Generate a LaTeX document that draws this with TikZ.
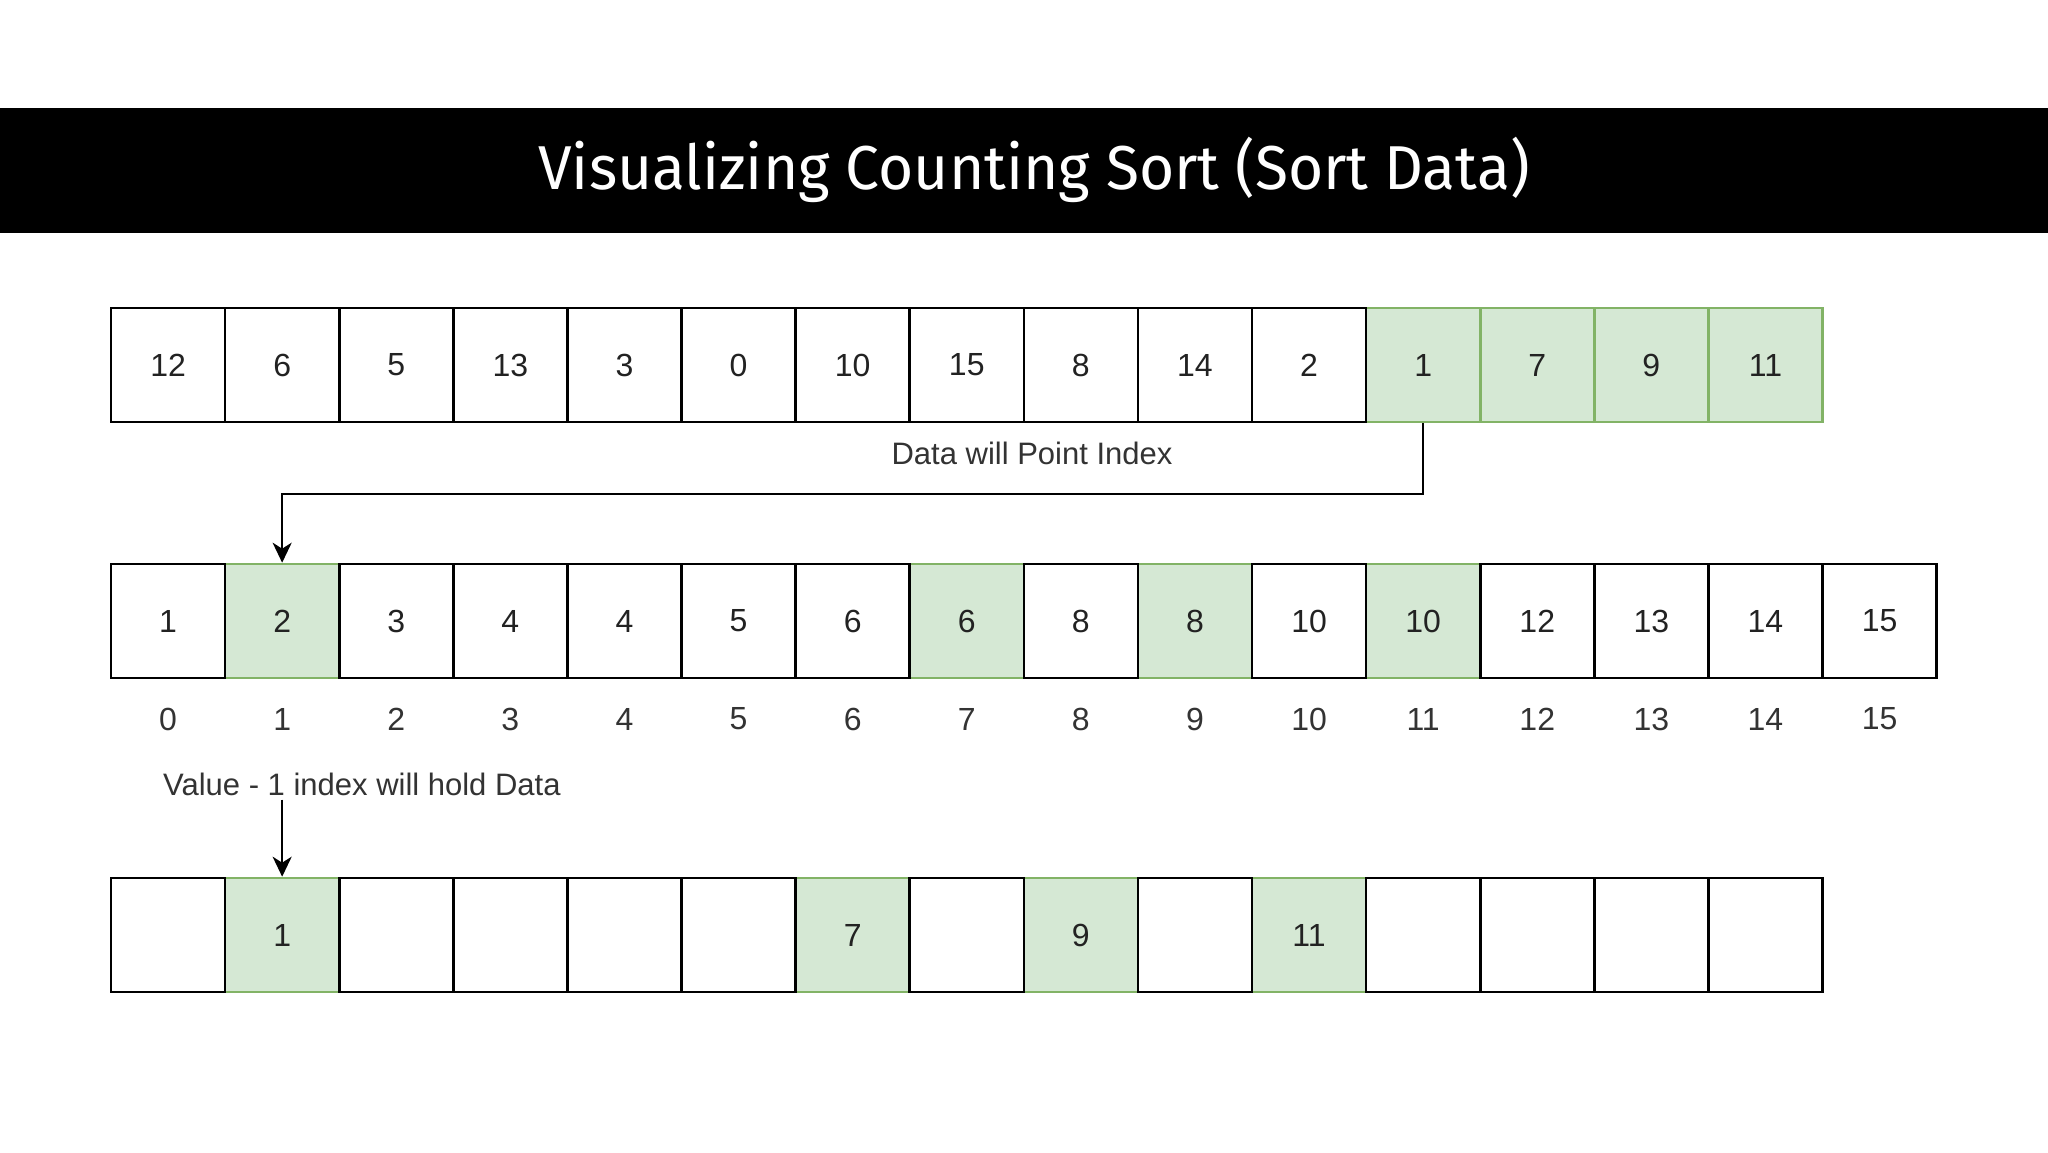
\documentclass[tikz,border=0pt]{standalone}
\usepackage{fontspec}
\setmainfont{Liberation Sans}
\newfontfamily\titlefont{Fira Sans}
\usetikzlibrary{arrows.meta}
\definecolor{gfill}{HTML}{D5E8D4}
\definecolor{gline}{HTML}{82B366}
\definecolor{txt}{HTML}{222222}
\definecolor{lbl}{HTML}{333333}
\tikzset{
  cell/.style={draw=black, line width=2.6pt, fill=white, minimum width=114.1pt, minimum height=114pt, inner sep=0pt, text=txt, font=\fontsize{32}{36}\selectfont},
  gcell/.style={cell, draw=gline, fill=gfill},
  idx/.style={inner sep=0pt, text=lbl, font=\fontsize{32}{36}\selectfont},
  note/.style={inner sep=0pt, text=lbl, font=\fontsize{31}{36}\selectfont},
  conn/.style={line width=2.4pt, -{Stealth[length=20pt,width=19pt,inset=6pt]}}
}
\begin{document}
\begin{tikzpicture}[x=1pt,y=-1pt]
\fill[white] (0,0) rectangle (2048,1152);
\useasboundingbox (0,0) rectangle (2048,1152);
\fill[black] (0,108) rectangle (2048,233);
\node[text=white, inner sep=0pt] (title) at (1034,170) {\scalebox{0.975}[1]{\titlefont\fontsize{62}{70}\selectfont Visualizing Counting Sort (Sort Data)}};
% top row
\foreach \i/\v/\s in {11/1/gcell,12/7/gcell,13/9/gcell,14/11/gcell,0/12/cell,1/6/cell,2/5/cell,3/13/cell,4/3/cell,5/0/cell,6/10/cell,7/15/cell,8/8/cell,9/14/cell,10/2/cell}
  \node[\s] (t\i) at ({111+(\i+0.5)*114.1},365) {\v};
% middle row
\foreach \i/\v/\s in {1/2/gcell,7/6/gcell,9/8/gcell,11/10/gcell,0/1/cell,2/3/cell,3/4/cell,4/4/cell,5/5/cell,6/6/cell,8/8/cell,10/10/cell,12/12/cell,13/13/cell,14/14/cell,15/15/cell}
  \node[\s] (m\i) at ({111+(\i+0.5)*114.1},621) {\v};
\foreach \i in {0,...,15}
  \node[idx] (x\i) at ({111+(\i+0.5)*114.1},719) {\i};
% bottom row
\foreach \i/\v/\s in {1/1/gcell,6/7/gcell,8/9/gcell,10/11/gcell,0//cell,2//cell,3//cell,4//cell,5//cell,7//cell,9//cell,11//cell,12//cell,13//cell,14//cell}
  \node[\s] (b\i) at ({111+(\i+0.5)*114.1},935) {\v};
% labels
\node[note] (l1) at (1032,453) {Data will Point Index};
\node[note, anchor=west] (l2) at (163,784) {Value - 1 index will hold Data};
\coordinate (turn) at (0,494);
\draw[conn] (t11.south) -- (t11.south |- turn) -- (m1.north |- turn) -- (m1.north);
\draw[conn] (l2.south -| b1.north) ++(0,4) -- (b1.north);
\end{tikzpicture}
\end{document}
